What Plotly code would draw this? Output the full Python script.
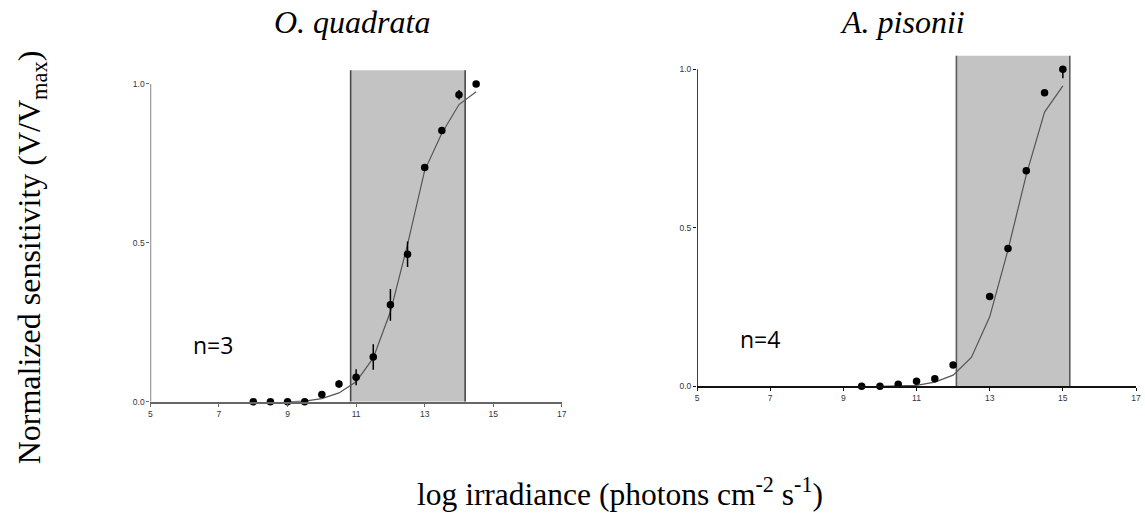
import plotly.graph_objects as go

# ---------------- data ----------------
# O. quadrata (left panel)
oq_x = [8, 8.5, 9, 9.5, 10, 10.5, 11, 11.5, 12, 12.5, 13, 13.5, 14, 14.5]
oq_y = [0, 0, 0, 0, 0.023, 0.056, 0.077, 0.141, 0.305, 0.464, 0.737, 0.853, 0.966, 1.0]
oq_err = [0, 0, 0, 0, 0, 0.012, 0.025, 0.04, 0.05, 0.04, 0, 0, 0.015, 0]
oq_fit_x = [9, 9.5, 10, 10.5, 11, 11.5, 12, 12.5, 13, 13.5, 14, 14.5]
oq_fit_y = [0, 0.002, 0.01, 0.028, 0.063, 0.138, 0.283, 0.495, 0.728, 0.845, 0.935, 0.975]
oq_band = [10.84, 14.18]

# A. pisonii (right panel)
ap_x = [9.5, 10, 10.5, 11, 11.5, 12, 13, 13.5, 14, 14.5, 15]
ap_y = [0.0, 0.0, 0.006, 0.016, 0.024, 0.067, 0.283, 0.435, 0.68, 0.926, 1.0]
ap_err_minus = [0, 0, 0, 0, 0, 0, 0, 0, 0, 0, 0.028]
ap_fit_x = [10, 10.5, 11, 11.5, 12, 12.5, 13, 13.5, 14, 14.5, 15]
ap_fit_y = [0, 0.001, 0.003, 0.013, 0.035, 0.091, 0.219, 0.43, 0.667, 0.865, 0.948]
ap_band = [12.09, 15.19]

band_top = 1.043
x_ticks = [5, 7, 9, 11, 13, 15, 17]
y_ticks = [0.0, 0.5, 1.0]
y_tick_labels = ["0.0", "0.5", "1.0"]

titles = ["O. quadrata", "A. pisonii"]
n_labels = ["n=3", "n=4"]

# ---------------- figure ----------------
W, H = 1145, 519
fig = go.Figure()

LEFT_COL = "#666666"
RIGHT_COL = "#111111"

# left panel
fig.add_trace(go.Scatter(x=oq_fit_x, y=oq_fit_y, mode="lines",
                         line=dict(color="#555555", width=1.2),
                         xaxis="x", yaxis="y", cliponaxis=False, showlegend=False))
fig.add_trace(go.Scatter(x=oq_x, y=oq_y, mode="markers",
                         marker=dict(color="black", size=7.5),
                         error_y=dict(type="data", array=oq_err, visible=True,
                                      width=0, thickness=1.5, color="black"),
                         xaxis="x", yaxis="y", cliponaxis=False, showlegend=False))
# right panel
fig.add_trace(go.Scatter(x=ap_fit_x, y=ap_fit_y, mode="lines",
                         line=dict(color="#555555", width=1.2),
                         xaxis="x2", yaxis="y2", cliponaxis=False, showlegend=False))
fig.add_trace(go.Scatter(x=ap_x, y=ap_y, mode="markers",
                         marker=dict(color="black", size=7.5),
                         error_y=dict(type="data", symmetric=False,
                                      array=[0] * len(ap_x), arrayminus=ap_err_minus,
                                      visible=True, width=0, thickness=1.5, color="black"),
                         xaxis="x2", yaxis="y2", cliponaxis=False, showlegend=False))

# domains (pixel-derived)
lx = [149.3 / W, 563.3 / W]
ly = [1 - 405.7 / H, 1 - (405.7 - 1.05 * 321) / H]
rx = [699.3 / W, 1141.0 / W]
ry = [1 - 390.0 / H, 1 - (390.0 - 1.05 * 320) / H]

tickfont = dict(family="Liberation Sans, Arial", size=8.5, color="#333344")

def xax(domain, anchor, col, overlay=None, inside=False):
    d = dict(domain=domain, range=[5, 17], anchor=anchor,
             tickvals=x_ticks, ticks="inside" if inside else "outside",
             ticklen=3, tickwidth=1, tickcolor=col,
             showgrid=False, zeroline=False, showline=not inside,
             linecolor=col, linewidth=1.6,
             showticklabels=not inside, tickfont=tickfont, fixedrange=True)
    if overlay:
        d["overlaying"] = overlay
    return d

def yax(domain, anchor, col, overlay=None, inside=False):
    d = dict(domain=domain, range=[0, 1.05], anchor=anchor,
             tickvals=y_ticks, ticktext=y_tick_labels,
             ticks="inside" if inside else "outside",
             ticklen=3, tickwidth=1, tickcolor=col,
             showgrid=False, zeroline=False, showline=False,
             showticklabels=not inside, tickfont=tickfont, fixedrange=True)
    if overlay:
        d["overlaying"] = overlay
    return d

fig.update_layout(
    width=W, height=H,
    margin=dict(l=0, r=0, t=0, b=0),
    paper_bgcolor="white", plot_bgcolor="rgba(0,0,0,0)",
    xaxis=xax(lx, "y", LEFT_COL),
    yaxis=yax(ly, "x", LEFT_COL),
    xaxis2=xax(rx, "y2", RIGHT_COL),
    yaxis2=yax(ry, "x2", RIGHT_COL),
    xaxis3=xax(lx, "y", LEFT_COL, overlay="x", inside=True),
    yaxis3=yax(ly, "x", LEFT_COL, overlay="y", inside=True),
    xaxis4=xax(rx, "y2", RIGHT_COL, overlay="x2", inside=True),
    yaxis4=yax(ry, "x2", RIGHT_COL, overlay="y2", inside=True),
)

shapes = []
for (xr, yr, band, edge, axcol) in [("x", "y", oq_band, "#4a4a4a", LEFT_COL),
                                    ("x2", "y2", ap_band, "#5a5a5a", RIGHT_COL)]:
    shapes.append(dict(type="rect", xref=xr, yref=yr, x0=band[0], x1=band[1],
                       y0=0, y1=band_top, fillcolor="#c3c3c3",
                       line=dict(width=0), layer="below"))
    for bx in band:
        shapes.append(dict(type="line", xref=xr, yref=yr, x0=bx, x1=bx,
                           y0=0, y1=band_top, line=dict(color=edge, width=1.6),
                           layer="below"))
    # y axis line from 0 to 1
    shapes.append(dict(type="line", xref=xr, yref=yr, x0=5, x1=5, y0=0, y1=1,
                       line=dict(color=axcol, width=1.6), layer="above"))
fig.update_layout(shapes=shapes)

serif = "Liberation Serif, Times New Roman, serif"
ann = [
    dict(text="<i>%s</i>" % titles[0], x=352 / W, y=1 - 22 / H, font=dict(family=serif, size=32, color="black")),
    dict(text="<i>%s</i>" % titles[1], x=906 / W, y=1 - 22 / H, font=dict(family=serif, size=32, color="black")),
    dict(text="Normalized sensitivity (V/V<sub>max</sub>)", x=30 / W, y=1 - 260 / H, textangle=-90,
         font=dict(family=serif, size=32, color="black")),
    dict(text="log irradiance (photons cm<sup>-2</sup> s<sup>-1</sup>)", x=622 / W, y=1 - 497 / H,
         font=dict(family=serif, size=31.5, color="black")),
    dict(text=n_labels[0], x=212 / W, y=1 - 348 / H, font=dict(family="Open Sans, Lato, sans-serif", size=23, color="black")),
    dict(text=n_labels[1], x=763 / W, y=1 - 342 / H, font=dict(family="Open Sans, Lato, sans-serif", size=23, color="black")),
]
for a in ann:
    a.update(xref="paper", yref="paper", showarrow=False, xanchor="center", yanchor="middle")
fig.update_layout(annotations=ann)

fig.write_html("out.html")
